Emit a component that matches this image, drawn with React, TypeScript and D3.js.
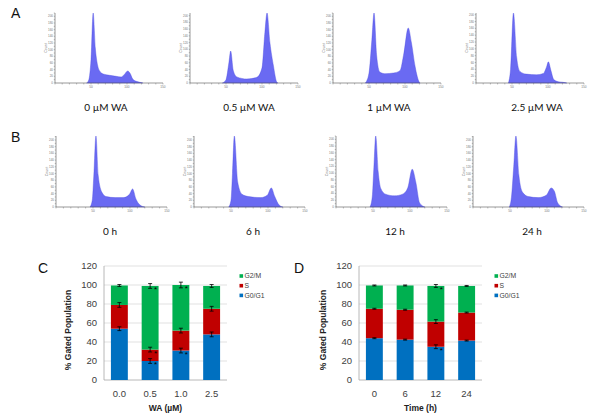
import React from "react";
import * as d3 from "d3";

// ---------- Histogram data (channel, count) ----------
const histA0: [number, number][] = [[44,0],[47,10],[50,70],[53,210],[56,105],[59,55],[62,36],[67,27],[76,23],[85,20],[92,18],[96,25],[101,36],[104,30],[108,12],[113,5],[118,2],[122,0]];
const histA1: [number, number][] = [[45,0],[50,10],[54,60],[56.5,95],[60,38],[65,18],[79,12],[93,17],[100,45],[104,150],[107,208],[111,120],[116,50],[120,5],[122,0]];
const histA2: [number, number][] = [[45,0],[50,30],[54,130],[57,210],[60.5,85],[65,33],[72,28],[84,30],[93,37],[98.5,90],[104.5,165],[109,120],[114,50],[120,2],[121,0]];
const histA3: [number, number][] = [[45,0],[48,40],[52,205],[56.5,75],[61,34],[70,26],[84,24],[93.5,28],[98,47],[100.5,62],[104,37],[108,10],[114,4],[121,2],[126,0]];
const histB0: [number, number][] = [[46,0],[49,20],[51,90],[54,212],[57,95],[62,44],[68,31],[80,28],[91,28],[99,37],[103.5,54],[108,24],[113.5,6],[120,0]];
const histB1: [number, number][] = [[47,0],[50,20],[52,100],[54.5,212],[59,75],[65,38],[74,31],[90,28],[99,35],[104.5,57],[109,32],[115,6],[120,0]];
const histB2: [number, number][] = [[46,0],[49,30],[51,110],[53.7,210],[57,105],[60.5,55],[67,38],[79,33],[90,38],[97,57],[103,112],[108,72],[113,12],[120,0]];
const histB3: [number, number][] = [[49,0],[52,30],[55,120],[58,212],[62,95],[67,44],[75,31],[88,28],[99,35],[105.7,57],[110,47],[114.5,12],[121,0]];

const captionsA = ["0 \u00b5M WA", "0.5 \u00b5M WA", "1 \u00b5M WA", "2.5 \u00b5M WA"];
const captionsB = ["0 h", "6 h", "12 h", "24 h"];
const histTicksX = [50, 100, 150];

// ---------- Bar chart data ----------
const catsC = ["0.0", "0.5", "1.0", "2.5"];
const g0C = [54, 20, 31, 48];
const sC = [25, 12, 21, 27];
const g2C = [20.5, 67, 48, 24];
const errG0C = [2, 2.5, 2.5, 2.5];
const errSC = [2.5, 2.5, 2.5, 2.5];
const errG2C = [1, 2.5, 3, 1.5];
const starG0C = [false, true, true, false];
const starSC = [false, true, false, false];
const starG2C = [false, true, true, false];

const catsD = ["0", "6", "12", "24"];
const g0D = [44, 42.5, 35, 41.5];
const sD = [31, 31.5, 26.5, 29.5];
const g2D = [24.5, 25.5, 37.5, 28];
const errG0D = [0.5, 0.5, 2, 0.5];
const errSD = [0.5, 0.5, 2, 0.5];
const errG2D = [0.5, 0.5, 1.5, 0.5];
const starG0D = [false, false, true, false];
const starSD = [false, false, false, false];
const starG2D = [false, false, true, false];

const yTicksBar = [0, 20, 40, 60, 80, 100, 120];
const legendLabels = ["G2/M", "S", "G0/G1"];
const COLORS = { g0: "#0070C0", s: "#C00000", g2: "#00B050" };

type HistProps = { data: [number, number][]; x0: number; w: number; top: number; base: number };

function Histogram({ data, x0, w, top, base }: HistProps) {
  const x = d3.scaleLinear().domain([0, 150]).range([x0, x0 + w]);
  const maxY = d3.max(data, (d) => d[1]) as number;
  const y = d3.scaleLinear().domain([0, maxY]).range([base, top]);
  const area = d3
    .area<[number, number]>()
    .x((d) => x(d[0]))
    .y0(base)
    .y1((d) => y(d[1]))
    .curve(d3.curveMonotoneX);
  const yTicks = y.ticks(12);
  const step = yTicks.length > 1 ? yTicks[1] - yTicks[0] : 20;
  const minorY = d3.range(0, maxY + 0.01, step / 2);
  const xMinor = d3.range(0, 151, 10);
  return (
    <g>
      <path d={area(data) || ""} fill="#6a6af2" stroke="#4b4be0" strokeWidth={0.4} />
      <line x1={x0} x2={x0} y1={top} y2={base} stroke="#555" strokeWidth={0.6} />
      <line x1={x0} x2={x0 + w} y1={base} y2={base} stroke="#555" strokeWidth={0.6} />
      {minorY.map((t, i) => (
        <line key={"ym" + i} x1={x0 - 1.2} x2={x0} y1={y(t)} y2={y(t)} stroke="#666" strokeWidth={0.4} />
      ))}
      {yTicks.map((t, i) => (
        <text key={"yl" + i} x={x0 - 2} y={y(t)} fontSize={3} fill="#777" textAnchor="end" dominantBaseline="central" fontFamily="Liberation Sans, Arial, sans-serif">
          {t}
        </text>
      ))}
      {xMinor.map((t, i) => (
        <line key={"xm" + i} x1={x(t)} x2={x(t)} y1={base} y2={base + 1.5} stroke="#666" strokeWidth={0.4} />
      ))}
      {histTicksX.map((t, i) => (
        <text key={"xl" + i} x={x(t)} y={base + 5} fontSize={3.2} fill="#777" textAnchor="middle" fontFamily="Liberation Sans, Arial, sans-serif">
          {t}
        </text>
      ))}
      <text
        transform={`translate(${x0 - 8},${(top + base) / 2}) rotate(-90)`}
        fontSize={3.6}
        fill="#777"
        textAnchor="middle"
        fontFamily="Liberation Sans, Arial, sans-serif"
      >
        Count
      </text>
    </g>
  );
}

type BarProps = {
  cats: string[];
  g0: number[];
  s: number[];
  g2: number[];
  eG0: number[];
  eS: number[];
  eG2: number[];
  stG0: boolean[];
  stS: boolean[];
  stG2: boolean[];
  left: number;
  right: number;
  top: number;
  bottom: number;
  xTitle: string;
  legendX: number;
};

function StackedBars(p: BarProps) {
  const x = d3.scaleBand<string>().domain(p.cats).range([p.left, p.right]).paddingInner(0.45).paddingOuter(0.225);
  const y = d3.scaleLinear().domain([0, 120]).range([p.bottom, p.top]);
  const bw = x.bandwidth();
  const font = "Liberation Sans, Arial, sans-serif";
  const rows = p.cats.map((c, i) => {
    const c0 = p.g0[i];
    const c1 = c0 + p.s[i];
    const c2 = c1 + p.g2[i];
    return { c, c0, c1, c2, i };
  });
  const errBar = (cx: number, v: number, e: number, key: string) => (
    <g key={key}>
      <line x1={cx} x2={cx} y1={y(v - e)} y2={y(v + e)} stroke="#000" strokeWidth={0.8} />
      <line x1={cx - 2} x2={cx + 2} y1={y(v - e)} y2={y(v - e)} stroke="#000" strokeWidth={0.8} />
      <line x1={cx - 2} x2={cx + 2} y1={y(v + e)} y2={y(v + e)} stroke="#000" strokeWidth={0.8} />
    </g>
  );
  const star = (cx: number, v: number, key: string) => (
    <text key={key} x={cx + 5.5} y={y(v) + 6} fontSize={8} fill="#000" textAnchor="middle" fontFamily={font}>
      *
    </text>
  );
  return (
    <g>
      {yTicksBar.map((t) => (
        <g key={"g" + t}>
          <line x1={p.left} x2={p.right} y1={y(t)} y2={y(t)} stroke={t === 0 ? "#a6a6a6" : "#d9d9d9"} strokeWidth={0.8} />
          <text x={p.left - 7} y={y(t)} dy="0.35em" fontSize={9.5} fill="#404040" textAnchor="end" fontFamily={font}>
            {t}
          </text>
        </g>
      ))}
      <line x1={p.left} x2={p.left} y1={p.top} y2={p.bottom} stroke="#a6a6a6" strokeWidth={0.8} />
      {rows.map((r) => {
        const bx = x(r.c) as number;
        const cx = bx + bw / 2;
        return (
          <g key={r.c}>
            <rect x={bx} width={bw} y={y(r.c0)} height={y(0) - y(r.c0)} fill={COLORS.g0} />
            <rect x={bx} width={bw} y={y(r.c1)} height={y(r.c0) - y(r.c1)} fill={COLORS.s} />
            <rect x={bx} width={bw} y={y(r.c2)} height={y(r.c1) - y(r.c2)} fill={COLORS.g2} />
            {errBar(cx, r.c0, p.eG0[r.i], "e0")}
            {errBar(cx, r.c1, p.eS[r.i], "e1")}
            {errBar(cx, r.c2, p.eG2[r.i], "e2")}
            {p.stG0[r.i] && star(cx, r.c0, "s0")}
            {p.stS[r.i] && star(cx, r.c1, "s1")}
            {p.stG2[r.i] && star(cx, r.c2, "s2")}
            <text x={cx} y={p.bottom + 17} fontSize={9.5} fill="#404040" textAnchor="middle" fontFamily={font}>
              {r.c}
            </text>
          </g>
        );
      })}
      <text x={(p.left + p.right) / 2} y={p.bottom + 31} fontSize={8.5} fontWeight="bold" fill="#222" textAnchor="middle" fontFamily={font}>
        {p.xTitle}
      </text>
      <text
        transform={`translate(${p.left - 33},${(p.top + p.bottom) / 2 + 7}) rotate(-90)`}
        fontSize={8.5}
        fontWeight="bold"
        fill="#222"
        textAnchor="middle"
        fontFamily={font}
      >
        % Gated Population
      </text>
      {legendLabels.map((lab, i) => {
        const col = i === 0 ? COLORS.g2 : i === 1 ? COLORS.s : COLORS.g0;
        const ly = p.top + 10 + i * 9.7;
        return (
          <g key={lab}>
            <rect x={p.legendX} y={ly - 1.8} width={3.6} height={3.6} fill={col} />
            <text x={p.legendX + 5} y={ly} dy="0.35em" fontSize={6.8} fill="#404040" fontFamily={font}>
              {lab}
            </text>
          </g>
        );
      })}
    </g>
  );
}

export default function App() {
  const histsA = [histA0, histA1, histA2, histA3];
  const histsB = [histB0, histB1, histB2, histB3];
  const xA = [55, 190, 333, 476];
  const xB = [56, 194, 336, 473];
  const capXA = [106, 249, 389, 537];
  const capXB = [110, 253, 395, 532];
  const capFont = "Lato, 'Open Sans', sans-serif";
  const letterFont = "Liberation Sans, Arial, sans-serif";
  return (
    <svg width={600} height={419} style={{ position: "absolute", left: 0, top: 0, background: "#fff" }}>
      <rect width={600} height={419} fill="#fff" />
      <text x={11} y={17.5} fontSize={14} fontFamily={letterFont} fill="#111">A</text>
      <text x={11} y={141.5} fontSize={14} fontFamily={letterFont} fill="#111">B</text>
      <text x={38} y={272.5} fontSize={14} fontFamily={letterFont} fill="#111">C</text>
      <text x={294} y={272.5} fontSize={14} fontFamily={letterFont} fill="#111">D</text>
      {histsA.map((h, i) => (
        <Histogram key={"a" + i} data={h} x0={xA[i]} w={108} top={13} base={83} />
      ))}
      {histsB.map((h, i) => (
        <Histogram key={"b" + i} data={h} x0={xB[i]} w={111} top={136} base={207} />
      ))}
      {captionsA.map((c, i) => (
        <text key={"ca" + i} x={capXA[i]} y={110.5} fontSize={10} textAnchor="middle" fontFamily={capFont} fill="#111">
          {c}
        </text>
      ))}
      {captionsB.map((c, i) => (
        <text key={"cb" + i} x={capXB[i]} y={235} fontSize={10} textAnchor="middle" fontFamily={capFont} fill="#111">
          {c}
        </text>
      ))}
      <StackedBars
        cats={catsC} g0={g0C} s={sC} g2={g2C}
        eG0={errG0C} eS={errSC} eG2={errG2C}
        stG0={starG0C} stS={starSC} stG2={starG2C}
        left={104} right={227} top={266} bottom={380}
        xTitle={"WA (\u00b5M)"} legendX={239.5}
      />
      <StackedBars
        cats={catsD} g0={g0D} s={sD} g2={g2D}
        eG0={errG0D} eS={errSD} eG2={errG2D}
        stG0={starG0D} stS={starSD} stG2={starG2D}
        left={359} right={482} top={266} bottom={380}
        xTitle={"Time  (h)"} legendX={494.5}
      />
    </svg>
  );
}
